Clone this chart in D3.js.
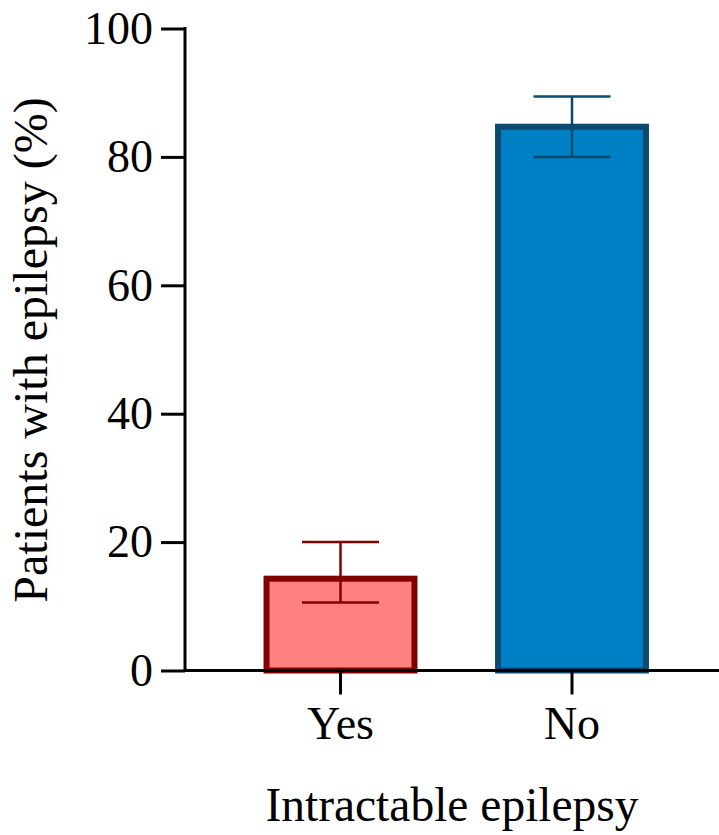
<!DOCTYPE html>
<html>
<head>
<meta charset="utf-8">
<script src="https://cdn.jsdelivr.net/npm/d3@7"></script>
<style>
  html, body { margin: 0; padding: 0; background: #fff; }
  svg { display: block; }
  svg text { font-family: "Liberation Serif", Tinos, "Times New Roman", Times, "DejaVu Serif", serif !important; }
</style>
</head>
<body>
<svg id="chart" width="719" height="835"></svg>
<script>
const categories = ["Yes", "No"];
const values = [14.3, 84.7];
const errLow = [10.6, 80.0];
const errHigh = [20.0, 89.4];
const yTicks = [0, 20, 40, 60, 80, 100];
const fills = ["#FF8080", "#0080C4"];
const strokes = ["#800000", "#0B4A6F"];
const xTitle = "Intractable epilepsy";
const yTitle = "Patients with epilepsy (%)";

const svg = d3.select("#chart");
const axisX0 = 185, axisRight = 719;
const y = d3.scaleLinear().domain([0, 100]).range([670.5, 28.5]);
const x = d3.scaleBand().domain(categories).range([224.75, 687.75])
  .paddingInner(0.361).paddingOuter(0.1805);

// bars
const g = svg.append("g");
categories.forEach((c, i) => {
  g.append("rect")
    .attr("x", x(c))
    .attr("y", y(values[i]))
    .attr("width", x.bandwidth())
    .attr("height", y(0) - y(values[i]))
    .attr("fill", fills[i])
    .attr("stroke", strokes[i])
    .attr("stroke-width", 6);
  const cx = x(c) + x.bandwidth() / 2;
  const capW = 77;
  g.append("line").attr("x1", cx).attr("x2", cx)
    .attr("y1", y(errHigh[i])).attr("y2", y(errLow[i]))
    .attr("stroke", strokes[i]).attr("stroke-width", 2.5);
  [errHigh[i], errLow[i]].forEach(v => {
    g.append("line").attr("x1", cx - capW / 2).attr("x2", cx + capW / 2)
      .attr("y1", y(v)).attr("y2", y(v))
      .attr("stroke", strokes[i]).attr("stroke-width", 2.5);
  });
});

// y axis
const yAxis = d3.axisLeft(y).tickValues(yTicks).tickSize(24).tickPadding(8).tickFormat(d3.format("d"));
const ya = svg.append("g").attr("transform", `translate(${axisX0},0)`).call(yAxis)
  .attr("font-family", null);
ya.select(".domain").remove();
ya.append("line").attr("x1", 0).attr("x2", 0).attr("y1", y(100) - 1.5).attr("y2", y(0) + 1.5)
  .attr("stroke", "#000").attr("stroke-width", 3);
ya.selectAll(".tick line").attr("stroke", "#000").attr("stroke-width", 3);
ya.selectAll(".tick text").attr("fill", "#000").style("font-size", "46px");

// x axis
const xAxis = d3.axisBottom(x).tickSize(24).tickPadding(12);
const xa = svg.append("g").attr("transform", `translate(0,${y(0)})`).call(xAxis)
  .attr("font-family", null);
xa.select(".domain").remove();
xa.append("line").attr("x1", axisX0 - 1.5).attr("x2", axisRight).attr("y1", 0).attr("y2", 0)
  .attr("stroke", "#000").attr("stroke-width", 3);
xa.selectAll(".tick line").attr("stroke", "#000").attr("stroke-width", 3);
xa.selectAll(".tick text").attr("fill", "#000").style("font-size", "46px");

// titles
svg.append("text").attr("x", (axisX0 + axisRight) / 2).attr("y", 821)
  .attr("text-anchor", "middle").style("font-size", "47.5px").attr("fill", "#000")
  .text(xTitle);
svg.append("text").attr("transform", "translate(47,350) rotate(-90)")
  .attr("text-anchor", "middle").style("font-size", "48px").attr("fill", "#000")
  .text(yTitle);
</script>
</body>
</html>
